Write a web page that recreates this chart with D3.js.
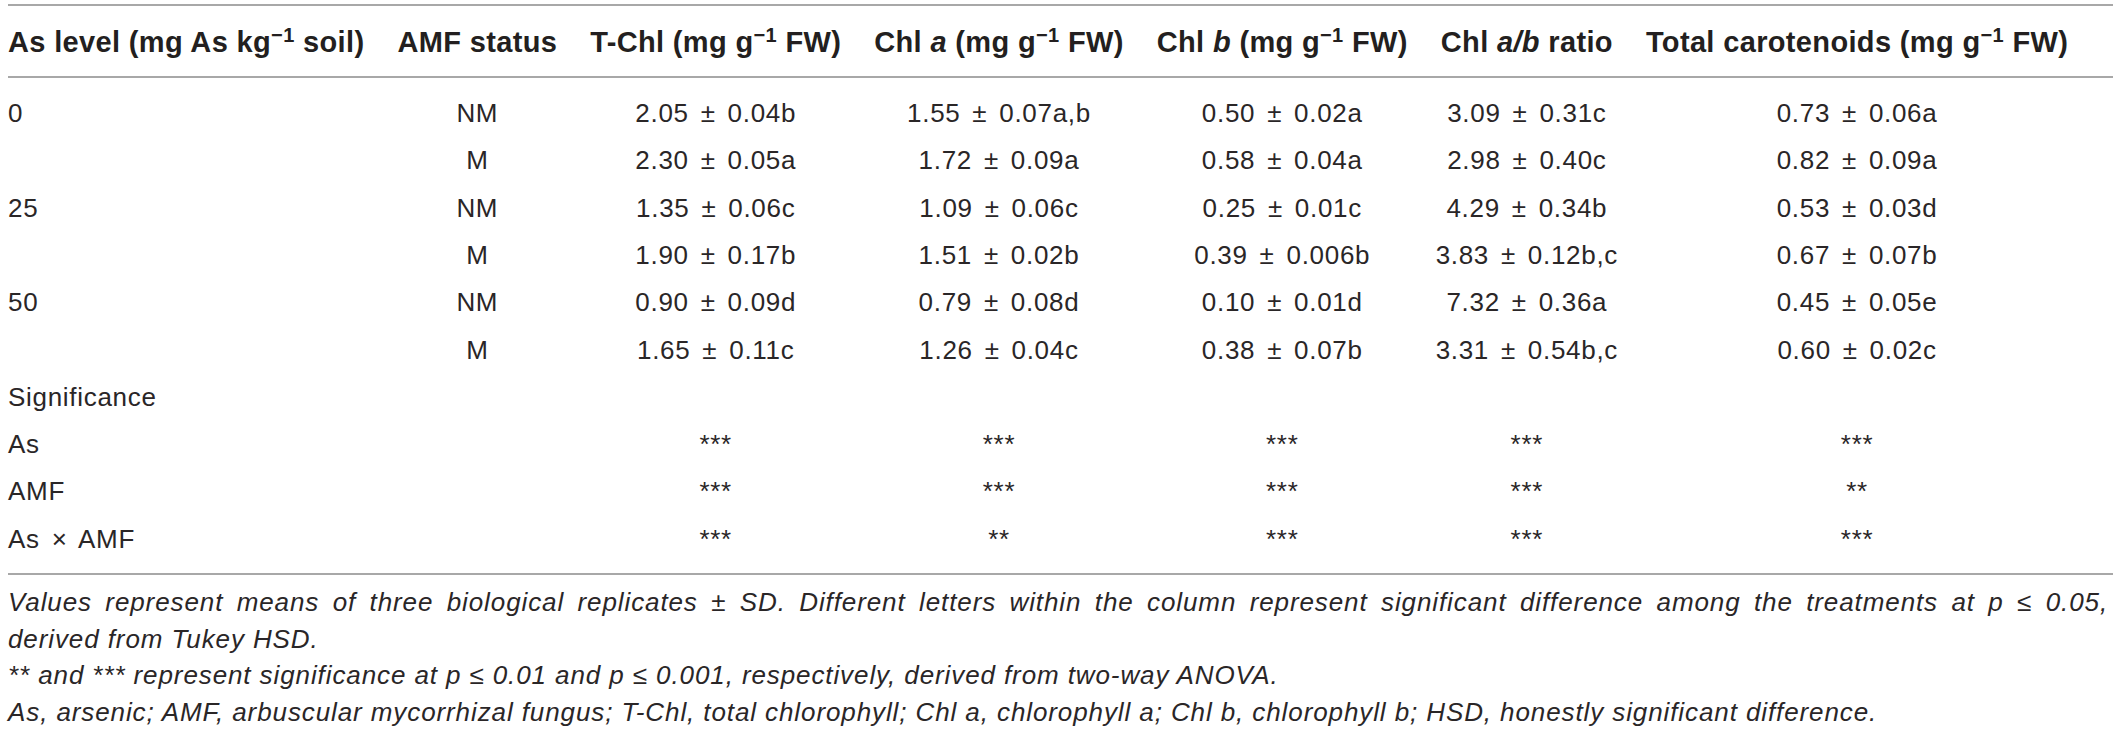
<!DOCTYPE html>
<html>
<head>
<meta charset="utf-8">
<script src="https://cdn.jsdelivr.net/npm/d3@7"></script>
<style>
  body { margin: 0; background: #fff; }
  svg text { font-family: "Liberation Sans", Arial, sans-serif; fill: #231f20; }
  .head { font-weight: bold; font-size: 29px; letter-spacing: 0.35px; }
  .cell { font-size: 26px; letter-spacing: 0.7px; word-spacing: 4px; fill: #2a2627; }
  .note { font-size: 26px; font-style: italic; letter-spacing: 0.9px; fill: #2a2627; }
  .rule { stroke: #a8a8a8; stroke-width: 2; }
</style>
</head>
<body>
<svg id="chart"></svg>
<script>
// table values
const asLevels = ["0", "25", "50"]
const amfStatus = ["NM", "M"]

const tChlMean = [2.05, 2.30, 1.35, 1.90, 0.90, 1.65]
const tChlSd = [0.04, 0.05, 0.06, 0.17, 0.09, 0.11]
const tChlLetter = ["b", "a", "c", "b", "d", "c"]

const chlAMean = [1.55, 1.72, 1.09, 1.51, 0.79, 1.26]
const chlASd = [0.07, 0.09, 0.06, 0.02, 0.08, 0.04]
const chlALetter = ["a,b", "a", "c", "b", "d", "c"]

const chlBMean = [0.50, 0.58, 0.25, 0.39, 0.10, 0.38]
const chlBSd = [0.02, 0.04, 0.01, 0.006, 0.01, 0.07]
const chlBLetter = ["a", "a", "c", "b", "d", "b"]

const ratioMean = [3.09, 2.98, 4.29, 3.83, 7.32, 3.31]
const ratioSd = [0.31, 0.40, 0.34, 0.12, 0.36, 0.54]
const ratioLetter = ["c", "c", "b", "b,c", "a", "b,c"]

const carMean = [0.73, 0.82, 0.53, 0.67, 0.45, 0.60]
const carSd = [0.06, 0.09, 0.03, 0.07, 0.05, 0.02]
const carLetter = ["a", "a", "d", "b", "e", "c"]

const sigTitle = "Significance"
const sigFactors = ["As", "AMF", "As × AMF"]
const sigAs = ["***", "***", "***", "***", "***"]
const sigAmf = ["***", "***", "***", "***", "**"]
const sigAsAmf = ["***", "**", "***", "***", "***"]

// header pieces: [text, style]  style: "sup" | "i" | undefined
const headers = [
  [["As level (mg As kg"], ["−1", "sup"], [" soil)"]],
  [["AMF status"]],
  [["T-Chl (mg g"], ["−1", "sup"], [" FW)"]],
  [["Chl "], ["a", "i"], [" (mg g"], ["−1", "sup"], [" FW)"]],
  [["Chl "], ["b", "i"], [" (mg g"], ["−1", "sup"], [" FW)"]],
  [["Chl "], ["a/b", "i"], [" ratio"]],
  [["Total carotenoids (mg g"], ["−1", "sup"], [" FW)"]]
]

const notes = [
  "Values represent means of three biological replicates ± SD. Different letters within the column represent significant difference among the treatments at p ≤ 0.05,",
  "derived from Tukey HSD.",
  "** and *** represent significance at p ≤ 0.01 and p ≤ 0.001, respectively, derived from two-way ANOVA.",
  "As, arsenic; AMF, arbuscular mycorrhizal fungus; T-Chl, total chlorophyll; Chl a, chlorophyll a; Chl b, chlorophyll b; HSD, honestly significant difference."
]
const noteJustify = [true, false, false, false]

let width = 2120
let height = 734
let margin = {left: 8, right: 7}
let colGap = 33

let svg = d3.select("#chart").attr("width", width).attr("height", height)

// header
let headG = svg.append("g").attr("class", "headers")
let heads = headG.selectAll("text.head")
    .data(headers)
    .join("text")
    .attr("class", "head")
    .attr("y", 52)

heads.each(function(parts) {
    let t = d3.select(this)
    let raised = false
    parts.forEach(p => {
        let ts = t.append("tspan").text(p[0])
        if (p[1] == "i") ts.style("font-style", "italic")
        if (p[1] == "sup") {
            ts.style("font-size", "20px").attr("dy", -10)
            raised = true
        } else if (raised) {
            ts.attr("dy", 10)
            raised = false
        }
    })
})

// lay the columns out from the header widths, like a table does
let left = margin.left
let colLeft = [], colWidth = []
heads.each(function() {
    let w = this.getBBox().width
    colLeft.push(left)
    colWidth.push(w)
    left += w + colGap
})
let colX = d3.scaleOrdinal()
    .domain(d3.range(headers.length))
    .range(colLeft.map((l, i) => i == 0 ? l : l + colWidth[i] / 2))

heads.attr("x", (d, i) => colX(i))
    .style("text-anchor", (d, i) => i == 0 ? "start" : "middle")

// rows
let fmt = v => v < 0.01 ? d3.format(".3f")(v) : d3.format(".2f")(v)
let cellText = (m, s, l) => m.map((v, i) => fmt(v) + " ± " + fmt(s[i]) + l[i])

let valueCols = [
    cellText(tChlMean, tChlSd, tChlLetter),
    cellText(chlAMean, chlASd, chlALetter),
    cellText(chlBMean, chlBSd, chlBLetter),
    cellText(ratioMean, ratioSd, ratioLetter),
    cellText(carMean, carSd, carLetter)
]
let sigCols = [sigAs, sigAmf, sigAsAmf]

let rows = []
tChlMean.forEach((v, i) => {
    rows.push([i % 2 == 0 ? asLevels[i / 2] : "", amfStatus[i % 2]].concat(valueCols.map(c => c[i])))
})
rows.push([sigTitle])
sigFactors.forEach((f, k) => rows.push([f, ""].concat(sigCols[k])))

let yRow = d3.scaleLinear().domain([0, rows.length - 1]).range([122, 547.7])

let body = svg.append("g").attr("class", "body")
let rowG = body.selectAll("g.row")
    .data(rows)
    .join("g")
    .attr("class", "row")
    .attr("transform", (d, i) => "translate(0," + yRow(i) + ")")

rowG.selectAll("text")
    .data(d => d.map((t, j) => ({t: t, j: j})))
    .join("text")
    .attr("class", "cell")
    .attr("x", d => colX(d.j))
    .style("text-anchor", d => d.j == 0 ? "start" : "middle")
    .text(d => d.t)

// rules
let rules = [5, 77, 574]
svg.selectAll("line.rule")
    .data(rules)
    .join("line")
    .attr("class", "rule")
    .attr("x1", margin.left)
    .attr("x2", width - margin.right)
    .attr("y1", d => d)
    .attr("y2", d => d)

// footnotes
let yNote = d3.scaleLinear().domain([0, notes.length - 1]).range([611, 721])
let noteW = width - margin.left - 12

notes.forEach((n, i) => {
    let t = svg.append("text")
        .attr("class", "note")
        .attr("y", yNote(i))
    if (!noteJustify[i]) {
        t.attr("x", margin.left).text(n)
        return
    }
    // spread the words to fill the line
    let words = n.split(" ")
    let spans = words.map(w => t.append("tspan").text(w))
    let lens = spans.map(s => s.node().getComputedTextLength())
    let gap = (noteW - d3.sum(lens)) / (words.length - 1)
    let x = margin.left
    spans.forEach((s, k) => {
        s.attr("x", x)
        x += lens[k] + gap
    })
})
</script>
</body>
</html>
